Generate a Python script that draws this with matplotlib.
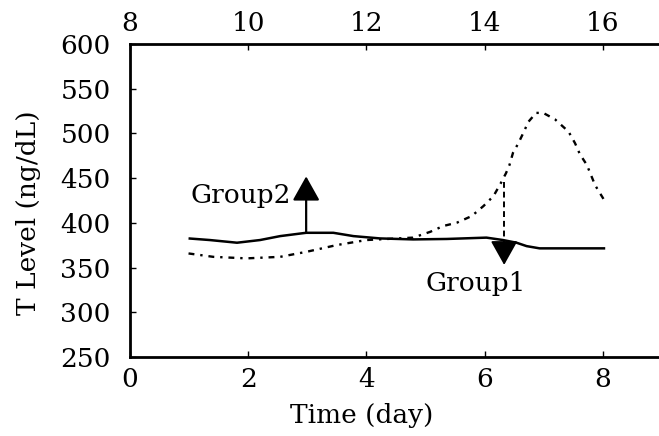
import matplotlib
matplotlib.use("Agg")
import matplotlib.pyplot as plt

# values
days_solid = [0.99, 1.35, 1.81, 2.2, 2.54, 2.98, 3.44, 3.78, 4.23, 4.79,
              5.36, 6.03, 6.31, 6.54, 6.71, 6.93, 8.04]
level_solid = [382.6, 380.8, 377.8, 380.8, 385.2, 388.9, 388.9, 385.2, 382.6, 381.5,
               382.0, 383.5, 380.8, 377.8, 374.0, 371.5, 371.5]

days_dotted = [0.99, 1.41, 1.97, 2.54, 2.99, 3.5, 4.0, 4.79, 5.08, 5.3, 5.53,
               5.78, 5.98, 6.15, 6.27, 6.36, 6.42, 6.48, 6.57, 6.65, 6.74,
               6.87, 6.99, 7.19, 7.42, 7.53, 7.61, 7.73, 7.87, 8.04]
level_dotted = [365.8, 362.0, 360.3, 362.0, 367.7, 375.2, 380.8, 383.5, 390.0, 396.5, 400.2,
                407.6, 418.8, 430.0, 444.0, 455.4, 464.7, 478.4, 489.0, 500.0, 513.0,
                523.0, 523.0, 515.8, 502.0, 489.0, 477.0, 464.7, 442.0, 423.6]

x_ticks = [0, 2, 4, 6, 8]
top_ticks = [8, 10, 12, 14, 16]
y_ticks = [250, 300, 350, 400, 450, 500, 550, 600]

# arrow annotations: (x, start, tip)
group2_arrow = (2.98, 389, 452)
group1_arrow = (6.33, 446, 353)

plt.rcParams["font.family"] = ["DejaVu Serif"]
FS = 19

fig = plt.figure(figsize=(6.59, 4.36), dpi=100)
ax = fig.add_axes([0.1973, 0.1812, 0.8027, 0.7178])

ax.plot(days_solid, level_solid, color="black", lw=1.8, solid_capstyle="butt")
ax.plot(days_dotted, level_dotted, color="black", lw=1.7,
        linestyle=(0, (2.5, 2.5, 1, 2.5)))

head = "-|>,head_length=0.75,head_width=0.42"
x, y0, y1 = group2_arrow
ax.annotate("", xy=(x, y1), xytext=(x, y0),
            arrowprops=dict(arrowstyle=head, mutation_scale=20,
                            color="black", lw=1.6, shrinkA=0, shrinkB=0))
ax.text(2.73, 431, "Group2", fontsize=FS, ha="right", va="center")

# group 1: dashed shaft, solid head
x, y0, y1 = group1_arrow
ax.plot([x, x], [y0, y1 + 20], color="black", lw=1.4, ls=(0, (3, 2)))
ax.annotate("", xy=(x, y1), xytext=(x, y1 + 22),
            arrowprops=dict(arrowstyle=head, mutation_scale=20,
                            color="black", lw=1.4, shrinkA=0, shrinkB=0))
ax.text(5.85, 332, "Group1", fontsize=FS, ha="center", va="center")

ax.set_xlim(0, 8.95)
ax.set_ylim(250, 600)
ax.set_xticks(x_ticks)
ax.set_yticks(y_ticks)
ax.spines["right"].set_visible(False)
for s in ("left", "bottom", "top"):
    ax.spines[s].set_linewidth(2.0)
ax.tick_params(direction="in", length=4, width=1, labelsize=FS)
ax.tick_params(axis="x", pad=7)
ax.tick_params(axis="y", pad=14)

top = ax.secondary_xaxis("top", functions=(lambda d: d + 8, lambda d: d - 8))
top.set_xticks(top_ticks)
top.tick_params(direction="in", length=4, width=1, labelsize=FS, pad=6)
top.spines["top"].set_visible(False)

ax.set_xlabel("Time (day)", fontsize=FS)
ax.xaxis.set_label_coords(0.438, -0.148)
ax.set_ylabel("T Level (ng/dL)", fontsize=FS)
ax.yaxis.set_label_coords(-0.168, 0.46)

fig.savefig("out.png", dpi=100)
